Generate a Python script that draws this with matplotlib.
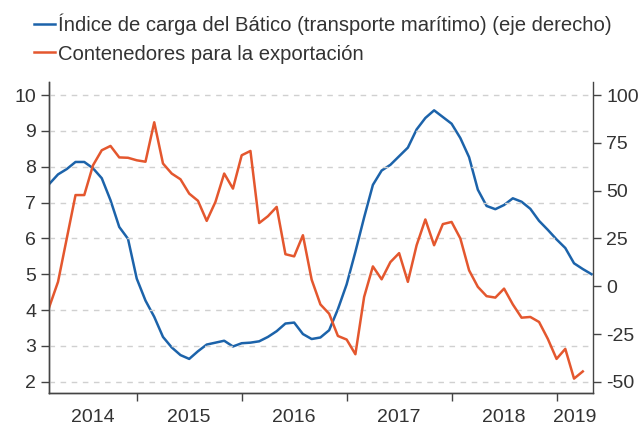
import numpy as np
import matplotlib
matplotlib.use("Agg")
import matplotlib.pyplot as plt
from matplotlib.ticker import FixedLocator, NullFormatter, FixedFormatter

# monthly points, first one is March 2014
contenedores = [4.09, 4.79, 6.00, 7.21, 7.21, 8.04, 8.46, 8.58, 8.26, 8.25,
                8.18, 8.14, 9.24, 8.09, 7.81, 7.65, 7.25, 7.05, 6.49, 7.02,
                7.81, 7.39, 8.32, 8.44, 6.43, 6.62, 6.88, 5.56, 5.50, 6.09,
                4.85, 4.16, 3.90, 3.28, 3.18, 2.77, 4.37, 5.22, 4.86, 5.34,
                5.59, 4.79, 5.81, 6.53, 5.81, 6.40, 6.46, 6.00, 5.11, 4.65,
                4.39, 4.35, 4.60, 4.16, 3.79, 3.81, 3.67, 3.20, 2.64, 2.92,
                2.09, 2.29]

baltico = [53.5, 58.5, 61.3, 65.0, 65.0, 61.7, 56.5, 45.0, 31.0, 24.8,
           4.0, -7.5, -16.0, -26.5, -32.0, -36.0, -38.0, -34.0, -30.5, -29.5,
           -28.5, -31.5, -29.8, -29.5, -28.8, -26.5, -23.5, -19.5, -19.0, -25.0,
           -27.6, -26.8, -23.0, -12.0, 1.0, 18.0, 36.0, 53.0, 60.5, 63.5,
           68.0, 72.5, 82.0, 88.0, 92.0, 88.5, 85.0, 77.5, 67.5, 50.5,
           42.0, 40.3, 42.5, 46.0, 44.2, 40.5, 34.2, 29.5, 24.5, 20.0,
           12.0, 9.0, 6.3]

years = [2014, 2015, 2016, 2017, 2018, 2019]
year_label_pos = [2014.58, 2015.5, 2016.5, 2017.5, 2018.5, 2019.175]

x_cont = 2014 + (2 + np.arange(len(contenedores))) / 12
x_balt = 2014 + (2 + np.arange(len(baltico))) / 12

blue = "#1c63aa"
orange = "#e4572e"
txt = "#333333"

plt.rcParams["font.family"] = ["Liberation Sans", "DejaVu Sans"]
plt.rcParams["axes.unicode_minus"] = False

fig = plt.figure(figsize=(6.4, 4.3), dpi=100)
ax = fig.add_axes([0.077, 0.0853, 0.85, 0.7237])
ax2 = ax.twinx()

ax.set_zorder(ax2.get_zorder() + 1)
ax.patch.set_visible(False)

l2, = ax.plot(x_cont, contenedores, color=orange, lw=1.8, label="Contenedores para la exportación")
l1, = ax2.plot(x_balt, baltico, color=blue, lw=1.8, label="Índice de carga del Bático (transporte marítimo) (eje derecho)")

lo, hi = 1.68, 10.36
ax.set_ylim(lo, hi)
ax2.set_ylim(18.75 * (lo - 2) - 50, 18.75 * (hi - 2) - 50)
ax.set_xlim(2014 + 2 / 12, 2019.35)

ax.set_yticks(range(2, 11))
ax2.set_yticks([-50, -25, 0, 25, 50, 75, 100])
ax.yaxis.grid(True, color="#d0d0d0", linestyle=(0, (4, 4)), lw=1)

ax.xaxis.set_major_locator(FixedLocator(years[1:]))
ax.xaxis.set_major_formatter(NullFormatter())
ax.xaxis.set_minor_locator(FixedLocator(year_label_pos))
ax.xaxis.set_minor_formatter(FixedFormatter([str(y) for y in years]))
ax.tick_params(axis="x", which="major", length=6, width=1, color="#444444")
ax.tick_params(axis="x", which="minor", length=0, pad=11, labelsize=14, labelcolor=txt)
ax.tick_params(axis="y", length=6, width=1, color="#444444", labelsize=14, labelcolor=txt)
ax2.tick_params(axis="y", length=6, width=1, color="#444444", labelsize=14, labelcolor=txt)

for a in (ax, ax2):
    a.spines["top"].set_visible(False)
    for s in ("left", "right", "bottom"):
        a.spines[s].set_color("#444444")
        a.spines[s].set_linewidth(1)
ax.spines["right"].set_visible(False)

fig.legend([l1, l2], [l1.get_label(), l2.get_label()], loc="upper left",
           bbox_to_anchor=(0.025, 1.01), frameon=False, fontsize=14.6,
           handlelength=1.0, handletextpad=0.15, labelspacing=0.45,
           labelcolor=txt)

fig.savefig("out.png", dpi=100)
